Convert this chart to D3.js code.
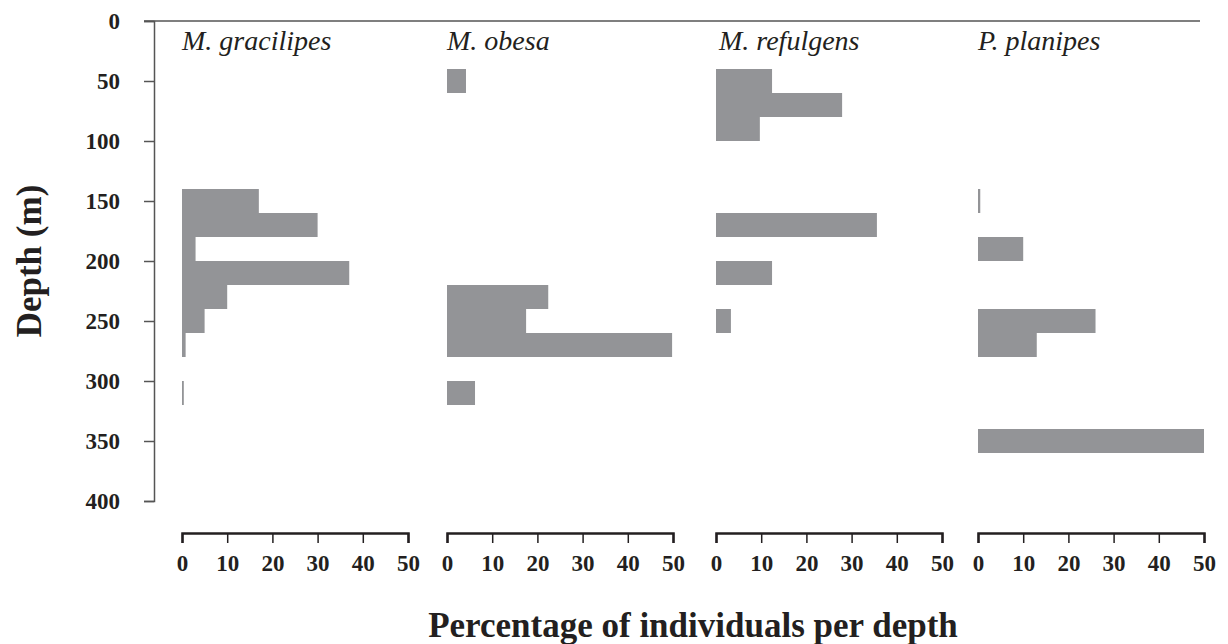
<!DOCTYPE html>
<html><head><meta charset="utf-8">
<script src="https://cdn.jsdelivr.net/npm/d3@7"></script>
<style>
html,body{margin:0;padding:0;background:#fff;}
svg{display:block;}
text{font-family:"Liberation Serif","Times New Roman",serif;}
</style></head>
<body>
<script>
// ---- data ----
const species = ["M. gracilipes", "M. obesa", "M. refulgens", "P. planipes"];
const binWidth = 20; // metres per depth bin
const gracilipesDepth = [140, 160, 180, 200, 220, 240, 260, 300];
const gracilipesPct   = [17, 30, 3, 37, 10, 5, 0.8, 0.4];
const obesaDepth = [40, 220, 240, 260, 300];
const obesaPct   = [4.2, 22.4, 17.5, 49.8, 6.2];
const refulgensDepth = [40, 60, 80, 160, 200, 240];
const refulgensPct   = [12.4, 27.9, 9.7, 35.6, 12.4, 3.3];
const planipesDepth = [140, 180, 240, 260, 340];
const planipesPct   = [0.5, 10, 26, 13, 50];
const depthTicks = [0, 50, 100, 150, 200, 250, 300, 350, 400];
const pctTicks = [0, 10, 20, 30, 40, 50];

const seriesDepth = [gracilipesDepth, obesaDepth, refulgensDepth, planipesDepth];
const seriesPct = [gracilipesPct, obesaPct, refulgensPct, planipesPct];

// ---- layout ----
const W = 1228, H = 644;
const panelX = [182, 447, 716, 978];
const panelW = 226;
const barColor = "#939497";

const svg = d3.select("body").append("svg").attr("width", W).attr("height", H);

const y = d3.scaleLinear().domain([0, 400]).range([21, 501]);

// top line
svg.append("line").attr("x1", 144).attr("x2", 1200)
  .attr("y1", y(0)).attr("y2", y(0))
  .attr("stroke", "#555").attr("stroke-width", 1.5);

// y axis
const yAxis = svg.append("g").attr("transform", "translate(154,0)")
  .call(d3.axisLeft(y).tickValues(depthTicks).tickSize(10).tickSizeOuter(10).tickPadding(24));
yAxis.selectAll("path,line").attr("stroke", "#555").attr("stroke-width", 1.5);
yAxis.selectAll("text").attr("font-family", "Liberation Serif").attr("font-weight", "bold")
  .attr("font-size", 23).attr("fill", "#231f20");

species.forEach((name, i) => {
  const x = d3.scaleLinear().domain([0, 50]).range([panelX[i], panelX[i] + panelW]);
  const data = seriesDepth[i].map((d, j) => ({depth: d, pct: seriesPct[i][j]}));
  svg.append("g").selectAll("rect").data(data).enter().append("rect")
    .attr("x", x(0))
    .attr("y", d => y(d.depth))
    .attr("width", d => x(d.pct) - x(0))
    .attr("height", d => y(d.depth + binWidth) - y(d.depth))
    .attr("fill", barColor);

  const xa = svg.append("g").attr("transform", "translate(0,533)")
    .call(d3.axisBottom(x).tickValues(pctTicks).tickSize(10).tickSizeOuter(10).tickPadding(12));
  xa.select(".domain").attr("stroke", "#231f20").attr("stroke-width", 2.5);
  xa.selectAll(".tick line").attr("stroke", "#231f20").attr("stroke-width", 1.5);
  xa.selectAll("text").attr("font-family", "Liberation Serif").attr("font-weight", "bold")
    .attr("font-size", 23).attr("fill", "#231f20");

  svg.append("text").attr("x", panelX[i] + (i === 2 ? 3 : 0)).attr("y", 50)
    .attr("font-style", "italic").attr("font-size", 28).attr("fill", "#231f20")
    .text(name);
});

svg.append("text").attr("transform", "translate(41,261) rotate(-90)")
  .attr("text-anchor", "middle").attr("font-weight", "bold").attr("font-size", 35)
  .attr("fill", "#231f20").text("Depth (m)");

svg.append("text").attr("x", 693).attr("y", 637)
  .attr("text-anchor", "middle").attr("font-weight", "bold").attr("font-size", 35)
  .attr("fill", "#231f20").text("Percentage of individuals per depth");
</script>
</body></html>
